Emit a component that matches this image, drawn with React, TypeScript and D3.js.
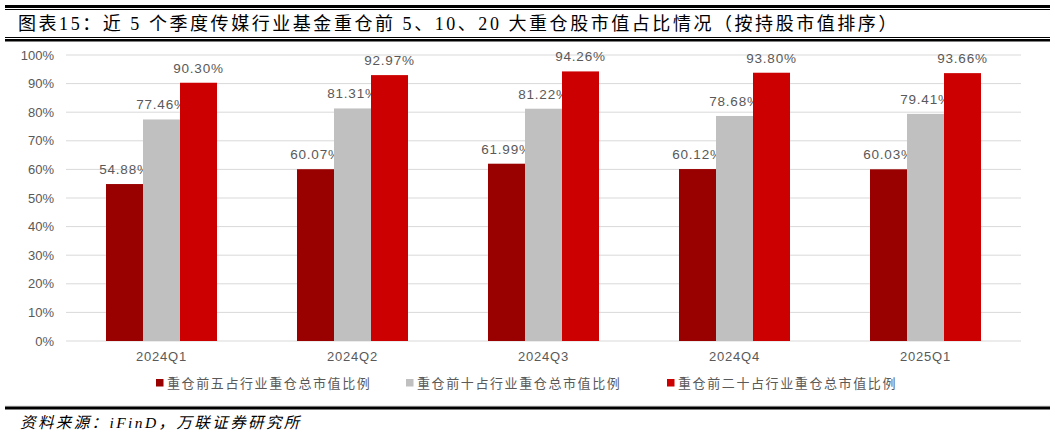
import * as d3 from "d3";

const quarters = ["2024Q1", "2024Q2", "2024Q3", "2024Q4", "2025Q1"];
const top5 = [54.88, 60.07, 61.99, 60.12, 60.03];
const top10 = [77.46, 81.31, 81.22, 78.68, 79.41];
const top20 = [90.3, 92.97, 94.26, 93.8, 93.66];
const seriesNames = [
  "重仓前五占行业重仓总市值比例",
  "重仓前十占行业重仓总市值比例",
  "重仓前二十占行业重仓总市值比例",
];
const yTicks = [0, 10, 20, 30, 40, 50, 60, 70, 80, 90, 100];

const W = 1055;
const H = 436;
const colors = ["#990000", "#C0C0C0", "#CC0000"];
const labelFont = "'Liberation Sans', Arial, sans-serif";
const serifFont = "'Liberation Serif', 'Noto Sans CJK SC', serif";

export default function App() {
  const x = d3.scaleBand<string>().domain(quarters).range([66, 1021]);
  const y = d3.scaleLinear().domain([0, 100]).range([341, 55]);
  const barW = 37;
  const inner = d3
    .scaleBand<number>()
    .domain([0, 1, 2])
    .range([0, barW * 3]);

  const series = [top5, top10, top20];

  return (
    <svg
      width={W}
      height={H}
      style={{ position: "absolute", left: 0, top: 0, background: "#fff" }}
    >
      {/* header rules */}
      <rect x={5} y={5} width={1045} height={3} fill="#000" />
      <rect x={5} y={9} width={1045} height={1} fill="#000" />
      <text
        x={18}
        y={30}
        fontSize={18}
        letterSpacing={2.55}
        fontFamily={serifFont}
        fill="#000"
      >
        图表15：近 5 个季度传媒行业基金重仓前 5、10、20 大重仓股市值占比情况（按持股市值排序）
      </text>
      <rect x={5} y={37} width={1045} height={1} fill="#000" />
      <rect x={5} y={39} width={1045} height={2.5} fill="#000" />

      {/* grid + y axis */}
      {yTicks.map((t) => (
        <g key={t}>
          <line
            x1={66}
            x2={1021}
            y1={y(t)}
            y2={y(t)}
            stroke="#D9D9D9"
            strokeWidth={1}
          />
          <text
            x={54}
            y={y(t)}
            dy="0.35em"
            textAnchor="end"
            fontSize={13}
            fontFamily={labelFont}
            fill="#595959"
          >
            {t}%
          </text>
        </g>
      ))}

      {/* bars */}
      {quarters.map((q, i) => {
        const gx = (x(q) ?? 0) + x.bandwidth() / 2 - (barW * 3) / 2;
        return (
          <g key={q}>
            {series.map((s, k) => {
              const bx = gx + (inner(k) ?? 0);
              return (
                <g key={k}>
                  <rect
                    x={bx}
                    y={y(s[i])}
                    width={barW}
                    height={y(0) - y(s[i])}
                    fill={colors[k]}
                  />
                  <text
                    x={bx + barW / 2}
                    y={y(s[i]) - 10}
                    textAnchor="middle"
                    fontSize={13.5}
                    letterSpacing={0.8}
                    fontFamily={labelFont}
                    fill="#595959"
                  >
                    {s[i].toFixed(2)}%
                  </text>
                </g>
              );
            })}
            <text
              x={(x(q) ?? 0) + x.bandwidth() / 2}
              y={361}
              textAnchor="middle"
              fontSize={13}
              letterSpacing={0.8}
              fontFamily={labelFont}
              fill="#595959"
            >
              {q}
            </text>
          </g>
        );
      })}

      {/* legend */}
      {seriesNames.map((name, k) => {
        const lx = [156, 406, 667][k];
        return (
          <g key={name}>
            <rect x={lx} y={379} width={7.5} height={7.5} fill={colors[k]} />
            <text
              x={lx + 11}
              y={388}
              fontSize={13}
              letterSpacing={1.6}
              fontFamily={serifFont}
              fill="#595959"
            >
              {name}
            </text>
          </g>
        );
      })}

      {/* footer */}
      <rect x={5} y={405.5} width={1045} height={1} fill="#D9D9D9" />
      <rect x={5} y={406.5} width={1045} height={3} fill="#000" />
      <text
        x={20}
        y={428}
        fontSize={15.5}
        letterSpacing={2.4}
        fontStyle="italic"
        fontFamily={serifFont}
        fill="#000"
      >
        资料来源：iFinD，万联证券研究所
      </text>
    </svg>
  );
}
